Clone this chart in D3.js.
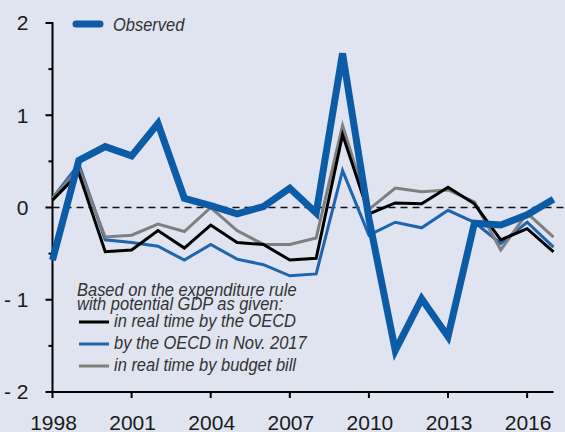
<!DOCTYPE html>
<html>
<head>
<meta charset="utf-8">
<script src="https://cdn.jsdelivr.net/npm/d3@7"></script>
<style>
  body { margin: 0; background: #dfe4f0; }
  svg { display: block; }
  text { font-family: "Liberation Sans", Arial, sans-serif; }
</style>
</head>
<body>
<svg id="chart" width="565" height="432"></svg>
<script>
var years = d3.range(1998, 2018);
var observed   = [-0.57, 0.51, 0.66, 0.56, 0.91, 0.10, 0.02, -0.07, 0.01, 0.21, -0.06, 1.67, -0.12, -1.55, -0.99, -1.40, -0.17, -0.19, -0.08, 0.09];
var realOECD   = [0.08, 0.37, -0.48, -0.46, -0.25, -0.44, -0.19, -0.38, -0.40, -0.57, -0.55, 0.79, -0.07, 0.05, 0.04, 0.22, 0.04, -0.35, -0.23, -0.48];
var oecdNov17  = [0.10, 0.47, -0.35, -0.38, -0.42, -0.57, -0.40, -0.56, -0.62, -0.74, -0.72, 0.40, -0.30, -0.16, -0.22, -0.03, -0.16, -0.39, -0.16, -0.43];
var budgetBill = [0.10, 0.43, -0.32, -0.30, -0.18, -0.26, 0.00, -0.25, -0.40, -0.40, -0.33, 0.89, -0.02, 0.21, 0.17, 0.19, 0.06, -0.46, -0.06, -0.32];
var yTicks = [2, 1, 0, -1, -2];
var yMinor = [1.5, 0.5, -0.5, -1.5];
var xTicks = [1998, 2001, 2004, 2007, 2010, 2013, 2016];
var noteLines = ["Based on the expenditure rule", "with potential GDP as given:"];
var legendLabels = ["in real time by the OECD", "by the OECD in Nov. 2017", "in real time by budget bill"];

var svg = d3.select("#chart");
var x = d3.scaleLinear().domain([1998, 2017]).range([52.5, 553.5]);
var y = d3.scaleLinear().domain([-2, 2]).range([392, 23]);

// zero line
svg.append("line")
  .attr("x1", x(1998)).attr("x2", 565)
  .attr("y1", y(0)).attr("y2", y(0))
  .attr("stroke", "#111").attr("stroke-width", 1.5)
  .attr("stroke-dasharray", "7,5");

// y axis
var yAxis = svg.append("g").attr("transform", "translate(" + x(1998) + ",0)");
yAxis.append("line").attr("x1", 0).attr("x2", 0).attr("y1", y(2) - 1).attr("y2", y(-2) + 1)
  .attr("stroke", "#000").attr("stroke-width", 2);
yAxis.selectAll(".maj").data(yTicks).enter().append("line")
  .attr("x1", -7).attr("x2", 0).attr("y1", d => y(d)).attr("y2", d => y(d))
  .attr("stroke", "#000").attr("stroke-width", 2);
yAxis.selectAll(".min").data(yMinor).enter().append("line")
  .attr("x1", -4).attr("x2", 0).attr("y1", d => y(d)).attr("y2", d => y(d))
  .attr("stroke", "#000").attr("stroke-width", 2);
yAxis.selectAll("text").data(yTicks).enter().append("text")
  .attr("x", -24).attr("y", d => y(d)).attr("dy", "0.35em")
  .attr("text-anchor", "end").attr("font-size", 21).attr("fill", "#1a1a1a")
  .text(d => d < 0 ? "- " + Math.abs(d) : d);

// x axis
var xAxis = svg.append("g").attr("transform", "translate(0," + y(-2) + ")");
xAxis.append("line").attr("x1", x(1998)).attr("x2", x(2017)).attr("y1", 0).attr("y2", 0)
  .attr("stroke", "#000").attr("stroke-width", 2);
xAxis.selectAll(".tk").data(xTicks).enter().append("line")
  .attr("x1", d => x(d)).attr("x2", d => x(d)).attr("y1", 0).attr("y2", 6)
  .attr("stroke", "#000").attr("stroke-width", 2);
xAxis.selectAll("text").data(xTicks).enter().append("text")
  .attr("x", d => x(d) + 1).attr("y", 38)
  .attr("text-anchor", "middle").attr("font-size", 21).attr("fill", "#1a1a1a")
  .text(d => d);

var line = d3.line().x((d, i) => x(years[i])).y(d => y(d));

function series(data, color, width) {
  svg.append("path").datum(data)
    .attr("d", line).attr("fill", "none")
    .attr("stroke", color).attr("stroke-width", width)
    .attr("stroke-linejoin", "miter").attr("stroke-linecap", "butt");
}
series(oecdNov17, "#1f64ae", 3);
series(budgetBill, "#7f7f7f", 3);
series(realOECD, "#000", 3);
series(observed, "#0b5ba7", 7);

// narrow italic text, squeezed a little like the original condensed face
function label(sel, tx, ty, txt) {
  return sel.append("text")
    .attr("transform", "translate(" + tx + "," + ty + ") scale(0.89,1)")
    .attr("font-style", "italic").attr("fill", "#333").attr("font-size", 18.5)
    .text(txt);
}

// legend: observed
svg.append("line").attr("x1", 76).attr("x2", 100).attr("y1", 24).attr("y2", 24)
  .attr("stroke", "#0b5ba7").attr("stroke-width", 7).attr("stroke-linecap", "round");
label(svg, 113, 31, "Observed");

// note + legend
noteLines.forEach((t, i) => label(svg, 77, 296 + i * 14, t));
var legColors = ["#000", "#1f64ae", "#7f7f7f"];
legendLabels.forEach(function(t, i) {
  var yy = 327 + i * 22;
  svg.append("line").attr("x1", 79).attr("x2", 109).attr("y1", yy - 5).attr("y2", yy - 5)
    .attr("stroke", legColors[i]).attr("stroke-width", 3);
  label(svg, 114, yy, t);
});
</script>
</body>
</html>
